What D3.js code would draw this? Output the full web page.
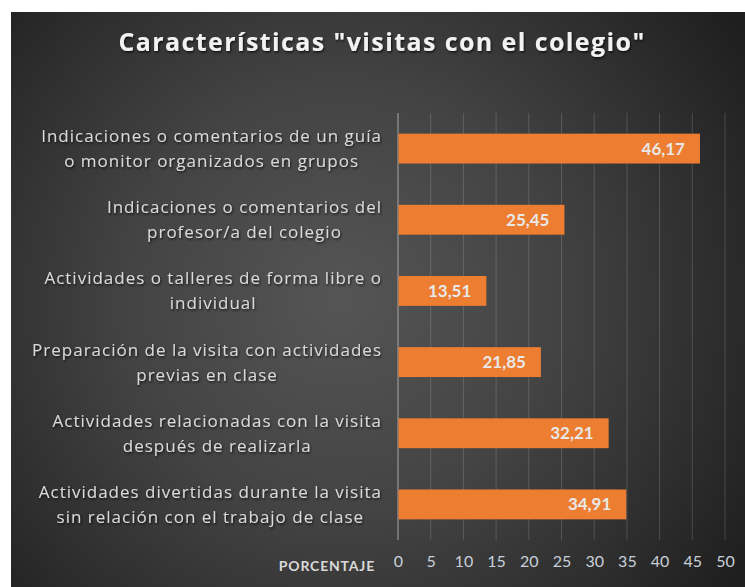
<!DOCTYPE html>
<html><head><meta charset="utf-8">
<script src="https://cdn.jsdelivr.net/npm/d3@7"></script>
<style>html,body{margin:0;padding:0;background:#fff;}svg{display:block;}</style>
</head><body>
<svg id="chart" width="745" height="587"></svg>
<script>
const title = 'Características "visitas con el colegio"';
const categories = [
  ["Indicaciones o comentarios de un guía", "o monitor organizados en grupos"],
  ["Indicaciones o comentarios del", "profesor/a del colegio"],
  ["Actividades o talleres de forma libre o", "individual"],
  ["Preparación de la visita con actividades", "previas en clase"],
  ["Actividades relacionadas con la visita", "después de realizarla"],
  ["Actividades divertidas durante la visita", "sin relación con el trabajo de clase"]
];
const values = [46.17, 25.45, 13.51, 21.85, 32.21, 34.91];
const tickValues = [0, 5, 10, 15, 20, 25, 30, 35, 40, 45, 50];
const axisTitle = "PORCENTAJE";

const svg = d3.select("#chart");
const defs = svg.append("defs");
const grad = defs.append("radialGradient").attr("id","bg")
  .attr("gradientUnits","userSpaceOnUse").attr("cx",340).attr("cy",300).attr("r",480);
grad.append("stop").attr("offset","0%").attr("stop-color","#555555");
grad.append("stop").attr("offset","45%").attr("stop-color","#434343");
grad.append("stop").attr("offset","100%").attr("stop-color","#1f1f1f");
const sh = defs.append("filter").attr("id","sh").attr("x","-10%").attr("y","-30%").attr("width","120%").attr("height","160%");
sh.append("feDropShadow").attr("dx",1).attr("dy",1.5).attr("stdDeviation",1).attr("flood-color","#000").attr("flood-opacity",0.7);

svg.append("rect").attr("x",11).attr("y",12).attr("width",734).attr("height",575).attr("fill","url(#bg)");

svg.append("text").attr("x",382).attr("y",51).attr("text-anchor","middle")
  .attr("font-family","'Open Sans', sans-serif").attr("font-weight","bold")
  .attr("font-size",25).attr("fill","#f2f2f2").attr("letter-spacing","1.4")
  .attr("filter","url(#sh)").text(title);

const plotLeft = 398, plotTop = 113, plotBottom = 540;
const x = d3.scaleLinear().domain([0, 50]).range([plotLeft, 725]);
const y = d3.scaleBand().domain(d3.range(categories.length)).range([plotTop, plotBottom]).paddingInner(0.58).paddingOuter(0.29);

// gridlines
svg.append("g").selectAll("line").data(tickValues).join("line")
  .attr("x1", d => x(d)).attr("x2", d => x(d)).attr("y1", plotTop).attr("y2", plotBottom)
  .attr("stroke", d => d === 0 ? "#a6a6a6" : "rgba(255,255,255,0.16)").attr("stroke-width", 1);

// bars
svg.append("g").selectAll("rect").data(values).join("rect")
  .attr("x", x(0)+0.5).attr("y", (d,i) => y(i)).attr("width", d => x(d)-x(0)-0.5)
  .attr("height", y.bandwidth()).attr("fill", "#ED7D31");

// value labels
svg.append("g").selectAll("text").data(values).join("text")
  .attr("x", d => x(d) - 15).attr("y", (d,i) => y(i) + y.bandwidth()/2 + 6)
  .attr("text-anchor","end").attr("font-family","Lato, sans-serif").attr("font-weight","bold")
  .attr("font-size",17).attr("fill","#e8e8e8")
  .text(d => d3.format(".2f")(d).replace(".", ","));

// category labels: block right-aligned, lines centered within block
const labelRight = 382;
const cat = svg.append("g").selectAll("text").data(categories).join("text")
  .attr("text-anchor","middle").attr("font-family","'Open Sans', sans-serif").attr("font-size",17)
  .attr("letter-spacing","1").attr("fill","#d9d9d9").attr("filter","url(#sh)");
cat.each(function(lines, i){
  const cy = y(i) + y.bandwidth()/2;
  const t = d3.select(this);
  const spans = lines.map((l, j) => t.append("tspan").attr("y", cy - 12.5 + j*25 + 6).text(l));
  const w = d3.max(spans, s => s.node().getComputedTextLength());
  spans.forEach(s => s.attr("x", labelRight - w/2));
});

// x axis tick labels
const axis = d3.axisBottom(x).tickValues(tickValues).tickSize(0).tickPadding(0).tickFormat(d3.format("d"));
const ag = svg.append("g").attr("transform", `translate(0,${556})`).call(axis);
ag.select(".domain").remove();
ag.selectAll("text").attr("font-family","Lato, sans-serif").attr("font-size",16).attr("fill","#c8d0da");

svg.append("text").attr("x",375).attr("y",571).attr("text-anchor","end")
  .attr("font-family","Lato, sans-serif").attr("font-weight","bold").attr("font-size",14)
  .attr("letter-spacing","0.8").attr("fill","#d9d9d9").text(axisTitle);
</script>
</body></html>
